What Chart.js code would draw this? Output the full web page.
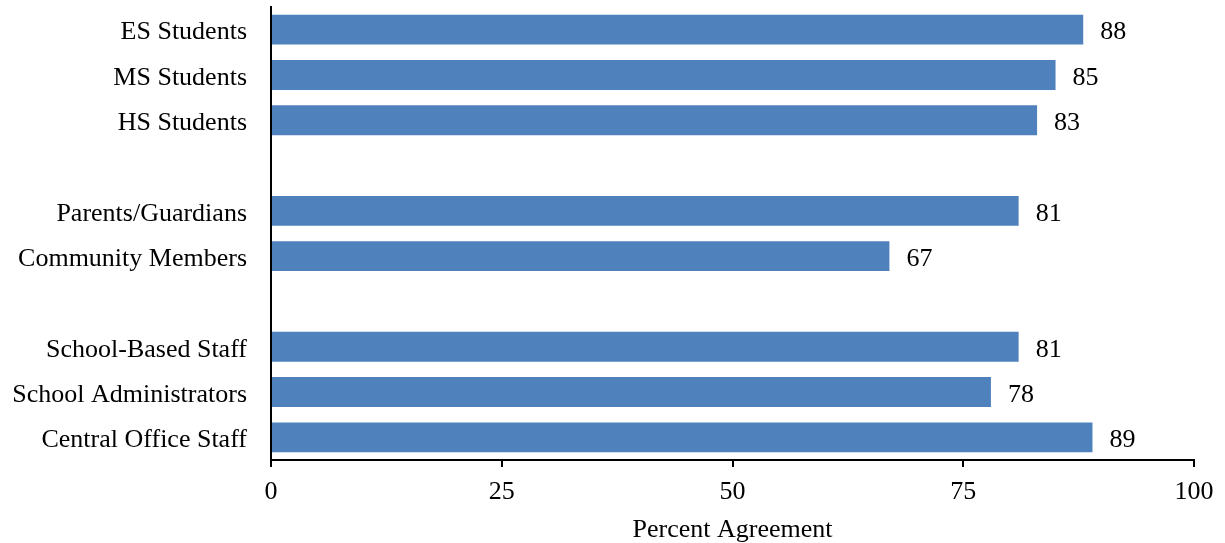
<!DOCTYPE html>
<html>
<head>
<meta charset="utf-8">
<script src="https://cdn.jsdelivr.net/npm/chart.js@4"></script>
<style>
  html, body { margin: 0; padding: 0; background: #fff; }
  #wrap { width: 1225px; height: 543px; }
</style>
</head>
<body>
<div id="wrap"><canvas id="agreeChart"></canvas></div>
<script>
// Chart data (blank entries are spacer rows between groups)
const groups = [
    'ES Students', 'MS Students', 'HS Students', '',
    'Parents/Guardians', 'Community Members', '',
    'School-Based Staff', 'School Administrators', 'Central Office Staff'
];
const agreement = [88, 85, 83, null, 81, 67, null, 81, 78, 89];
const xTicks = [0, 25, 50, 75, 100];

const serif = '"Liberation Serif", "Times New Roman", serif';

// Draw the number next to each bar
const valueLabels = {
    id: 'valueLabels',
    afterDatasetsDraw(chart) {
        const ctx = chart.ctx;
        const meta = chart.getDatasetMeta(0);
        ctx.save();
        ctx.font = '26px ' + serif;
        ctx.fillStyle = '#000';
        ctx.textAlign = 'left';
        ctx.textBaseline = 'middle';
        meta.data.forEach((bar, i) => {
            if (agreement[i] === null) return;
            ctx.fillText(String(agreement[i]), bar.x + 17, bar.y + 3);
        });
        ctx.restore();
    }
};

new Chart(document.getElementById('agreeChart'), {
    type: 'bar',
    data: {
        labels: groups,
        datasets: [{
            data: agreement,
            backgroundColor: '#4F81BD',
            borderWidth: 0,
            barPercentage: 0.66,
            categoryPercentage: 1
        }]
    },
    options: {
        indexAxis: 'y',
        responsive: true,
        maintainAspectRatio: false,
        animation: false,
        layout: { padding: { top: 7, right: 31, left: 0, bottom: 0 } },
        plugins: {
            legend: { display: false },
            tooltip: { enabled: false }
        },
        scales: {
            x: {
                min: 0,
                max: 100,
                afterBuildTicks(scale) {
                    scale.ticks = xTicks.map(v => ({ value: v }));
                },
                grid: {
                    drawOnChartArea: false,
                    drawTicks: true,
                    tickLength: 7,
                    color: '#000',
                    lineWidth: 2
                },
                border: { display: true, color: '#000', width: 2 },
                ticks: {
                    color: '#000',
                    padding: 10,
                    font: { family: serif, size: 26 }
                },
                title: {
                    display: true,
                    text: 'Percent Agreement',
                    color: '#000',
                    padding: { top: 4, bottom: -3 },
                    font: { family: serif, size: 26 }
                },
                afterFit(scale) { scale.height = 83; }
            },
            y: {
                grid: { display: false },
                border: { display: true, color: '#000', width: 2 },
                ticks: {
                    color: '#000',
                    padding: 16,
                    labelOffset: 3,
                    autoSkip: false,
                    font: { family: serif, size: 26 }
                },
                afterFit(scale) {
                    scale.width = 271;
                    // no extra room above/below for the tick labels
                    scale.paddingTop = 0;
                    scale.paddingBottom = 0;
                }
            }
        }
    },
    plugins: [valueLabels]
});
</script>
</body>
</html>
